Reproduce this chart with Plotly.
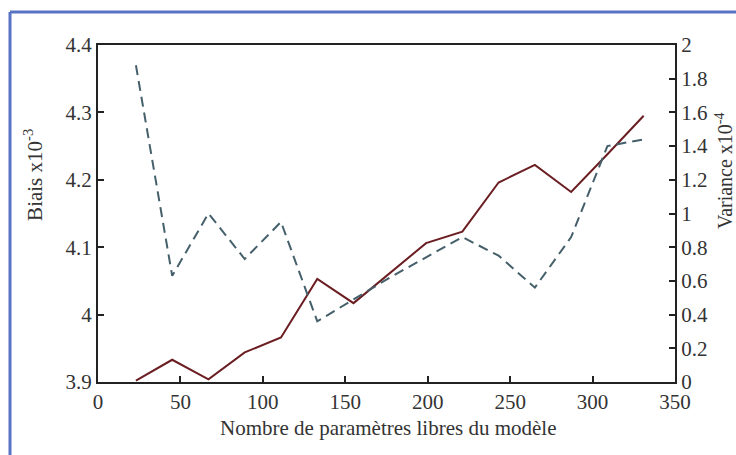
import plotly.graph_objects as go

# nombre de paramètres libres
n_params = [23, 45, 67, 89, 111, 133, 155, 177, 199, 221, 243, 265, 287, 309, 331]
# biais (x1e-3), axe gauche
biais = [3.902, 3.933, 3.904, 3.944, 3.966, 4.053, 4.017, 4.062, 4.106, 4.123,
         4.196, 4.222, 4.182, 4.238, 4.295]
# variance (x1e-4), axe droit
variance = [1.88, 0.63, 1.00, 0.73, 0.95, 0.36, 0.49, 0.62, 0.74, 0.86,
            0.75, 0.56, 0.86, 1.40, 1.44]

x_ticks = [0, 50, 100, 150, 200, 250, 300, 350]
biais_ticks = [3.9, 4.0, 4.1, 4.2, 4.3, 4.4]
biais_ticktext = ["3.9", "4", "4.1", "4.2", "4.3", "4.4"]
var_ticks = [0, 0.2, 0.4, 0.6, 0.8, 1.0, 1.2, 1.4, 1.6, 1.8, 2.0]
var_ticktext = ["0", "0.2", "0.4", "0.6", "0.8", "1", "1.2", "1.4", "1.6", "1.8", "2"]

FONT = "Liberation Serif"
AXIS_COLOR = "#222222"
TXT_COLOR = "#333333"
FRAME_COLOR = "#5872c4"

fig = go.Figure()

fig.add_trace(go.Scatter(
    x=n_params, y=variance, yaxis="y2", mode="lines", name="Variance",
    line=dict(color="#45606b", width=2, dash="10px,6px"),
))
fig.add_trace(go.Scatter(
    x=n_params, y=biais, mode="lines", name="Biais",
    line=dict(color="#6b1e22", width=2),
))

axis_common = dict(
    showgrid=False, zeroline=False, showline=True, linecolor=AXIS_COLOR, linewidth=2,
    ticks="inside", ticklen=6, tickwidth=1.5, tickcolor=AXIS_COLOR,
    tickfont=dict(family=FONT, size=21, color=TXT_COLOR),
)

fig.update_layout(
    width=736, height=455, autosize=False,
    margin=dict(l=98, r=61, t=45, b=73),
    paper_bgcolor="white", plot_bgcolor="white",
    showlegend=False,
    xaxis=dict(range=[0, 350], tickvals=x_ticks, mirror=True, **axis_common),
    yaxis=dict(range=[3.9, 4.4], tickvals=biais_ticks, ticktext=biais_ticktext, **axis_common),
    yaxis2=dict(range=[0, 2], tickvals=var_ticks, ticktext=var_ticktext,
                overlaying="y", side="right", **axis_common),
)

title_font = dict(family=FONT, size=21, color=TXT_COLOR)
fig.add_annotation(text="Nombre de paramètres libres du modèle", xref="paper", yref="paper",
                   x=0.502, y=-0.137, showarrow=False, font=title_font,
                   xanchor="center", yanchor="middle")
fig.add_annotation(text="Biais x10<sup>-3</sup>", xref="paper", yref="paper",
                   x=-0.113, y=0.614, textangle=-90, showarrow=False, font=title_font,
                   xanchor="center", yanchor="middle")
fig.add_annotation(text="Variance x10<sup>-4</sup>", xref="paper", yref="paper",
                   x=1.085, y=0.626, textangle=-90, showarrow=False,
                   font=dict(family=FONT, size=20, color=TXT_COLOR),
                   xanchor="center", yanchor="middle")

# cadre bleu (bords haut et gauche, le reste sort de l'image)
fig.add_shape(type="line", xref="paper", yref="paper",
              x0=-0.1525, y0=1.098, x1=1.2, y1=1.098,
              line=dict(color=FRAME_COLOR, width=3), layer="below")
fig.add_shape(type="line", xref="paper", yref="paper",
              x0=-0.1525, y0=-0.3, x1=-0.1525, y1=1.098,
              line=dict(color=FRAME_COLOR, width=3), layer="below")

# drop the default 8px body margin so the figure fills the window exactly
fig.write_html("out.html", config={"displayModeBar": False},
               post_script="document.body.style.margin='0';")
